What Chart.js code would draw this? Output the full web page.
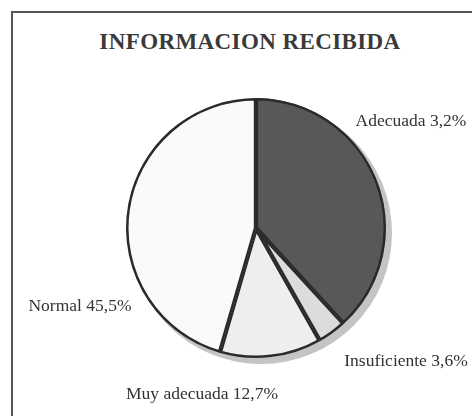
<!DOCTYPE html>
<html>
<head>
<meta charset="utf-8">
<script src="https://cdn.jsdelivr.net/npm/chart.js@4"></script>
<style>
  html, body { margin: 0; padding: 0; background: #fff; }
  #wrap { position: relative; width: 472px; height: 416px; overflow: hidden; }
  #frame { position: absolute; left: 11px; top: 11px; width: 480px; height: 420px;
           border-top: 2px solid #555; border-left: 2px solid #555; }
  #title { position: absolute; left: 28px; width: 444px; top: 29px; text-align: center;
           font-family: "Liberation Serif", serif; font-weight: bold; font-size: 23px;
           color: #3a3a3a; letter-spacing: 0.4px; }
  canvas { position: absolute; left: 0; top: 0; }
</style>
</head>
<body>
<div id="wrap">
  <div id="frame"></div>
  <div id="title">INFORMACION RECIBIDA</div>
  <canvas id="chart" width="472" height="416"></canvas>
</div>
<script>
// datos (sentido horario desde arriba)
const categories = ["Adecuada", "Insuficiente", "Muy adecuada", "Normal"];
const values = [38.2, 3.6, 12.7, 45.5];
// textos tal como aparecen impresos
const labelTexts = ["Adecuada 3,2%", "Insuficiente 3,6%", "Muy adecuada 12,7%", "Normal 45,5%"];

const sliceColors = ["#585858", "#dcdcdc", "#eeeeee", "#fafafa"];
// posicion de cada etiqueta (centro del texto)
const labelPos = [[411, 121], [406, 361], [202, 394], [80, 306]];

const shadowPlugin = {
    id: "shadow",
    beforeDatasetsDraw(chart) {
        const arc = chart.getDatasetMeta(0).data[0];
        if (!arc) return;
        const ctx = chart.ctx;
        ctx.save();
        ctx.fillStyle = "#c4c4c4";
        ctx.beginPath();
        ctx.arc(arc.x + 5, arc.y + 5, arc.outerRadius + 1, 0, Math.PI * 2);
        ctx.fill();
        ctx.restore();
    }
};

const labelPlugin = {
    id: "sliceLabels",
    afterDatasetsDraw(chart) {
        const ctx = chart.ctx;
        ctx.save();
        ctx.font = '17.5px "Liberation Serif", serif';
        ctx.fillStyle = "#333";
        ctx.textAlign = "center";
        ctx.textBaseline = "middle";
        labelTexts.forEach((t, i) => {
            ctx.fillText(t, labelPos[i][0], labelPos[i][1]);
        });
        ctx.restore();
    }
};

new Chart(document.getElementById("chart"), {
    type: "pie",
    data: {
        labels: categories,
        datasets: [
            {
                data: values,
                backgroundColor: sliceColors,
                borderColor: "#2a2a2a",
                borderWidth: 2.2,
                borderAlign: "inner",
            },
        ],
    },
    options: {
        responsive: false,
        animation: false,
        events: [],
        layout: { padding: { left: 126, right: 86, top: 98, bottom: 58 } },
        plugins: {
            legend: { display: false },
            tooltip: { enabled: false },
        },
    },
    plugins: [shadowPlugin, labelPlugin],
});
</script>
</body>
</html>
